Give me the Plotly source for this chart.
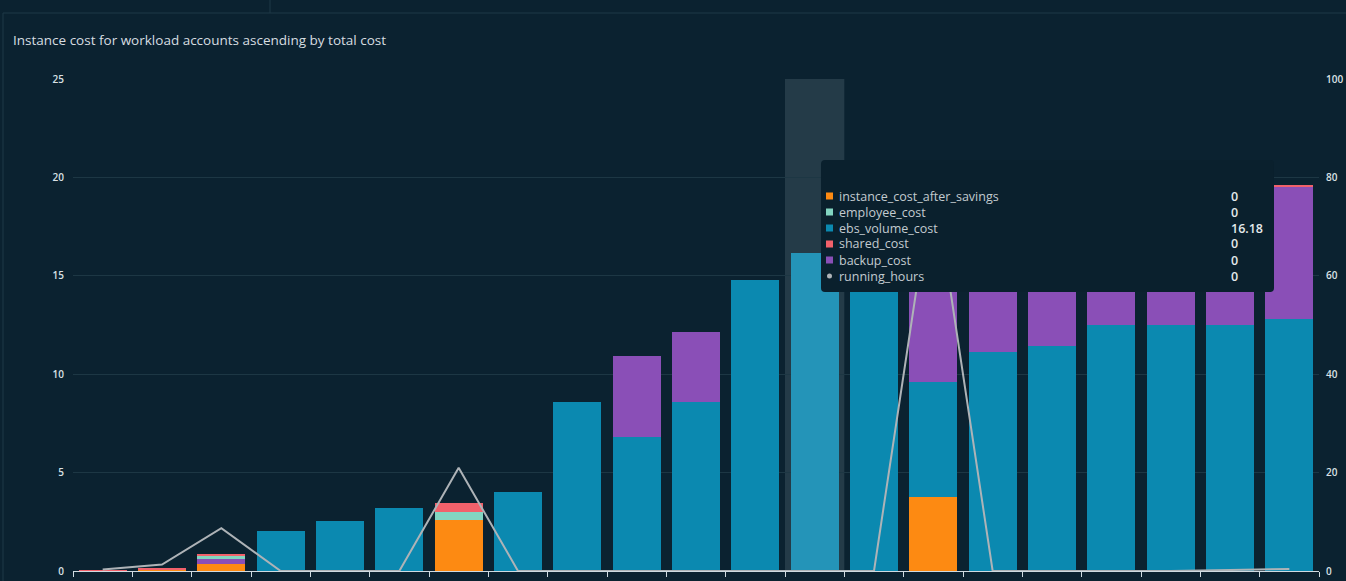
import plotly.graph_objects as go

# accounts, ascending by total cost
accounts = ['acct-%02d' % i for i in range(1, 22)]

instance_cost_after_savings = [0, 0.09, 0.37, 0, 0, 0, 2.59, 0, 0, 0, 0,
                               0, 0, 0, 3.75, 0, 0, 0, 0, 0, 0]
employee_cost = [0, 0, 0.17, 0, 0, 0, 0.41, 0, 0, 0, 0,
                 0, 0, 0, 0, 0, 0, 0, 0, 0, 0]
ebs_volume_cost = [0, 0, 0, 2.03, 2.54, 3.2, 0, 4.02, 8.6, 6.81, 8.6,
                   14.8, 16.18, 16.45, 5.83, 11.13, 11.45, 12.5, 12.5, 12.5, 12.8]
shared_cost = [0.05, 0.02, 0.1, 0, 0, 0, 0.46, 0, 0, 0, 0,
               0, 0, 0, 0, 0, 0, 0, 0, 0, 0.06]
backup_cost = [0, 0, 0.24, 0, 0, 0, 0, 0, 0, 4.11, 3.54,
               0, 0, 0, 7.32, 6.27, 6.45, 5.9, 6.3, 6.7, 6.75]
running_hours = [0.3, 1.3, 8.7, 0, 0, 0, 21, 0, 0, 0, 0,
                 0, 0, 0, 80, 0, 0, 0, 0, 0.2, 0.4]

hover_idx = 12  # bar under the mouse in the screenshot

BG = '#0b2230'
GRID = '#1d3744'
TXT = '#dae1e5'
ORANGE = '#fd8a12'
TEAL = '#82d5c1'
BLUE = '#0b89b0'
PINK = '#f1616b'
PURPLE = '#8a4fb7'
LINE = '#aeb3b7'

W, H = 1346, 581
L, R, T, B = 73, 1319, 79, 571


def px(x):
    return (x - L) / (R - L)


def py(y):
    return (B - y) / (B - T)


fig = go.Figure()

ebs_colors = [BLUE] * len(accounts)
ebs_colors[hover_idx] = '#2494b8'

# stacking order as drawn in the picture
fig.add_trace(go.Bar(x=accounts, y=instance_cost_after_savings, name='instance_cost_after_savings',
                     marker=dict(color=ORANGE, line=dict(width=0))))
fig.add_trace(go.Bar(x=accounts, y=ebs_volume_cost, name='ebs_volume_cost',
                     marker=dict(color=ebs_colors, line=dict(width=0))))
fig.add_trace(go.Bar(x=accounts, y=backup_cost, name='backup_cost',
                     marker=dict(color=PURPLE, line=dict(width=0))))
fig.add_trace(go.Bar(x=accounts, y=employee_cost, name='employee_cost',
                     marker=dict(color=TEAL, line=dict(width=0))))
fig.add_trace(go.Bar(x=accounts, y=shared_cost, name='shared_cost',
                     marker=dict(color=PINK, line=dict(width=0))))
fig.add_trace(go.Scatter(x=accounts, y=running_hours, name='running_hours', yaxis='y2',
                         mode='lines', line=dict(color=LINE, width=2)))

shapes = []
# hover highlight band
shapes.append(dict(type='rect', xref='x', yref='paper', x0=hover_idx - 0.5, x1=hover_idx + 0.5,
                   y0=0, y1=1, fillcolor='#243b48', line=dict(width=0), layer='below'))
# dashboard chrome
shapes.append(dict(type='line', xref='paper', yref='paper', x0=px(3), x1=px(W), y0=py(13), y1=py(13),
                   line=dict(color='#1f3946', width=1)))
shapes.append(dict(type='line', xref='paper', yref='paper', x0=px(270), x1=px(270), y0=py(0), y1=py(13),
                   line=dict(color='#1f3946', width=1)))
shapes.append(dict(type='line', xref='paper', yref='paper', x0=px(3), x1=px(3), y0=py(13), y1=py(H),
                   line=dict(color='#1f3946', width=1)))

# tooltip box
x0, x1, y0, y1, r = 821, 1274, 160, 292, 4
path = ('M %f,%f L %f,%f Q %f,%f %f,%f L %f,%f Q %f,%f %f,%f L %f,%f Q %f,%f %f,%f '
        'L %f,%f Q %f,%f %f,%f Z') % (
    px(x0 + r), py(y0), px(x1 - r), py(y0), px(x1), py(y0), px(x1), py(y0 + r),
    px(x1), py(y1 - r), px(x1), py(y1), px(x1 - r), py(y1),
    px(x0 + r), py(y1), px(x0), py(y1), px(x0), py(y1 - r),
    px(x0), py(y0 + r), px(x0), py(y0), px(x0 + r), py(y0))
shapes.append(dict(type='path', xref='paper', yref='paper', path=path,
                   fillcolor='#0a202d', line=dict(width=0), layer='above'))

rows = [
    ('instance_cost_after_savings', ORANGE, instance_cost_after_savings[hover_idx], 'sq'),
    ('employee_cost', TEAL, employee_cost[hover_idx], 'sq'),
    ('ebs_volume_cost', BLUE, ebs_volume_cost[hover_idx], 'sq'),
    ('shared_cost', PINK, shared_cost[hover_idx], 'sq'),
    ('backup_cost', PURPLE, backup_cost[hover_idx], 'sq'),
    ('running_hours', LINE, running_hours[hover_idx], 'dot'),
]

annotations = []
for i, (label, color, val, kind) in enumerate(rows):
    yc = 196 + i * 16
    if kind == 'sq':
        shapes.append(dict(type='rect', xref='paper', yref='paper', x0=px(826), x1=px(833),
                           y0=py(yc + 3.5), y1=py(yc - 3.5), fillcolor=color, line=dict(width=0)))
    else:
        shapes.append(dict(type='circle', xref='paper', yref='paper', x0=px(827), x1=px(832),
                           y0=py(yc + 2.5), y1=py(yc - 2.5), fillcolor=color, line=dict(width=0)))
    annotations.append(dict(xref='paper', yref='paper', x=px(837), y=py(yc), text=label,
                            showarrow=False, xanchor='left', yanchor='middle',
                            font=dict(family='Open Sans', size=12.5, color='#c3cbd0')))
    annotations.append(dict(xref='paper', yref='paper', x=px(1229), y=py(yc), text='%g' % val,
                            showarrow=False, xanchor='left', yanchor='middle',
                            font=dict(family='Open Sans', size=12.5, color='#e4e9ec', weight=600)))

fig.update_layout(
    width=W, height=H,
    margin=dict(l=L, r=W - R, t=T, b=H - B, pad=0, autoexpand=False),
    paper_bgcolor=BG, plot_bgcolor=BG,
    barmode='stack', bargap=0.19,
    showlegend=False,
    title=dict(text='Instance cost for workload accounts ascending by total cost',
               x=13 / W, xanchor='left', y=1 - 40 / H, yanchor='middle', xref='container',
               font=dict(family='Open Sans', size=13.5, color='#d7dde0')),
    font=dict(family='Open Sans', color=TXT),
    xaxis=dict(type='category', showgrid=False, showticklabels=False, automargin=False,
               tickson='boundaries', ticks='outside', ticklen=5, tickcolor='#d0dbe1',
               showline=True, linecolor='#d0dbe1', linewidth=1, zeroline=False),
    yaxis=dict(range=[0, 25], dtick=5, showgrid=True, gridcolor=GRID, gridwidth=1,
               zeroline=False, ticks='', ticklabelstandoff=8, automargin=False,
               tickfont=dict(family='Open Sans', size=10, color=TXT, weight=600)),
    yaxis2=dict(range=[0, 100], dtick=20, overlaying='y', side='right', showgrid=False,
                zeroline=False, ticks='', ticklabelstandoff=6, automargin=False,
                tickfont=dict(family='Open Sans', size=10, color=TXT, weight=600)),
    shapes=shapes,
    annotations=annotations,
    hovermode=False,
)

# page margin off so the figure fills the window exactly
fig.write_html('out.html', config={'displayModeBar': False},
               post_script="document.body.style.margin='0';document.body.style.background='#0b2230';")
